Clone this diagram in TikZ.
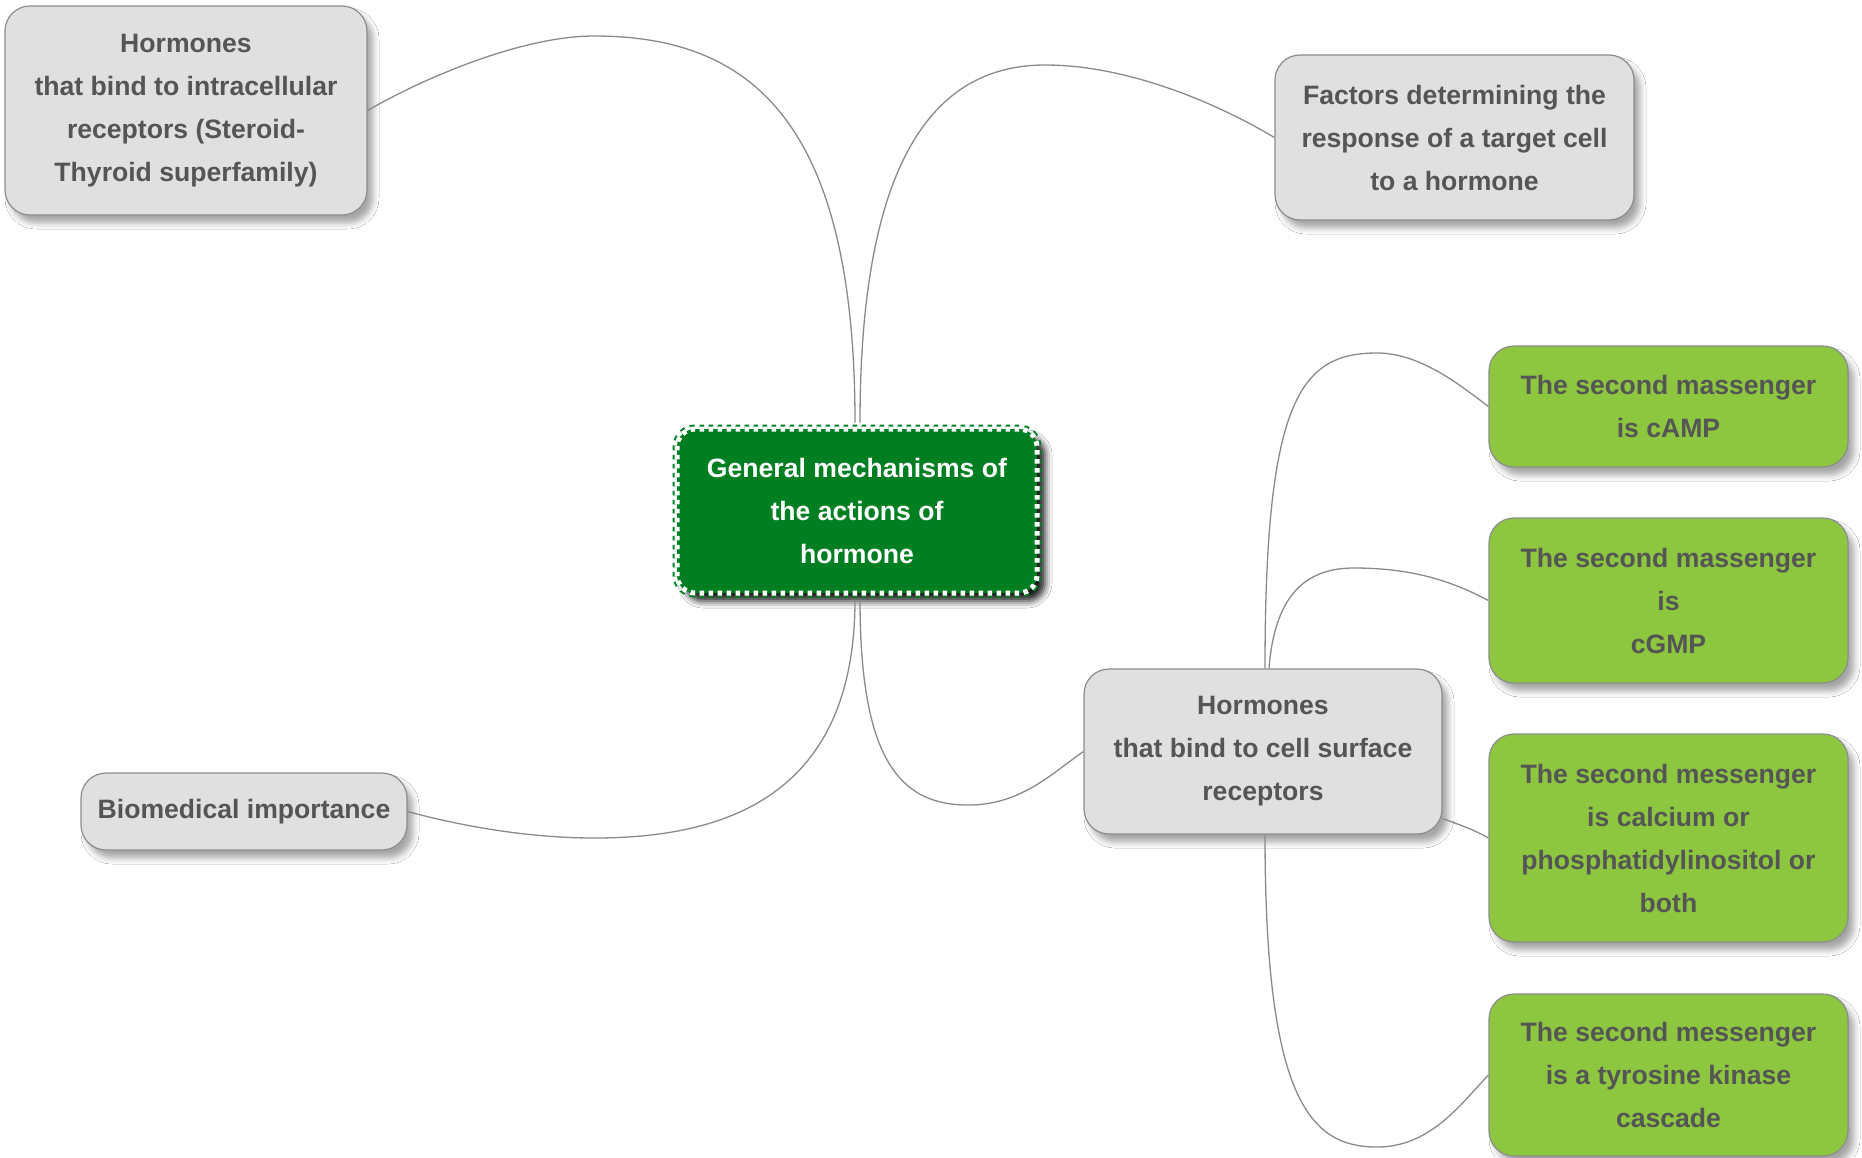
\documentclass[tikz,border=0pt]{standalone}
\usepackage{fontspec}
\setmainfont{Liberation Sans}
\usetikzlibrary{shadows.blur}
\definecolor{txtgray}{HTML}{555555}
\definecolor{grayfill}{HTML}{E0E0E0}
\definecolor{boxborder}{HTML}{8C8C8C}
\definecolor{greenfill}{HTML}{8DC63F}
\definecolor{darkgreen}{HTML}{007F22}
\definecolor{linegray}{HTML}{8A8A8A}
\tikzset{
  basebox/.style={rounded corners=25pt, line width=1.2pt, align=center, inner sep=0pt,
    font=\fontsize{26.6}{43}\selectfont\bfseries,
    blur shadow={shadow xshift=6pt, shadow yshift=-8pt, shadow opacity=35, shadow blur radius=6pt}},
  graybox/.style={basebox, draw=boxborder, fill=grayfill, text=txtgray},
  greenbox/.style={basebox, draw=boxborder, fill=greenfill, text=txtgray},
  centerbox/.style={rounded corners=18pt, align=center, inner sep=0pt,
    font=\fontsize{26.6}{43}\selectfont\bfseries, text=white, fill=darkgreen,
    blur shadow={shadow xshift=8pt, shadow yshift=-8pt, shadow opacity=90, shadow blur radius=7pt},
    preaction={draw=darkgreen, line width=9pt},
    draw=white, line width=5pt, dash pattern=on 4.5pt off 4.5pt},
  conn/.style={draw=linegray, line width=1.3pt}
}
\begin{document}
\begin{tikzpicture}[x=1pt,y=-1pt]
\useasboundingbox (0,0) rectangle (1862,1157);
\fill[white] (0,0) rectangle (1862,1157);

\node[centerbox, minimum width=360pt, minimum height=164pt] (c) at (857,511)
  {General mechanisms of\\the actions of\\hormone};
\node[graybox, minimum width=362pt, minimum height=209pt] (tl) at (186,110.5)
  {Hormones\\that bind to intracellular\\receptors (Steroid-\\Thyroid superfamily)};
\node[graybox, minimum width=359pt, minimum height=165pt] (tr) at (1454.5,137.5)
  {Factors determining the\\response of a target cell\\to a hormone};
\node[graybox, minimum width=326pt, minimum height=77pt] (bio) at (244,811.5)
  {Biomedical importance};
\node[graybox, minimum width=358pt, minimum height=165pt] (cell) at (1263,751.5)
  {Hormones\\that bind to cell surface\\receptors};
\node[greenbox, minimum width=359pt, minimum height=121pt] (g1) at (1668.5,406.5)
  {The second massenger\\is cAMP};
\node[greenbox, minimum width=359pt, minimum height=165pt] (g2) at (1668.5,600.5)
  {The second massenger\\is\\cGMP};
\node[greenbox, minimum width=359pt, minimum height=208pt] (g3) at (1668.5,838)
  {The second messenger\\is calcium or\\phosphatidylinositol or\\both};
\node[greenbox, minimum width=359pt, minimum height=162pt] (g4) at (1668.5,1075)
  {The second messenger\\is a tyrosine kinase\\cascade};

\draw[conn] ([xshift=-2pt,yshift=4pt]c.north) .. controls (855,120) and (750,36) .. (594,36)
  .. controls (520,36) and (420,80) .. (tl.east);
\draw[conn] ([xshift=3pt,yshift=4pt]c.north) .. controls (860,150) and (940,65) .. (1045,65)
  .. controls (1130,65) and (1220,105) .. (tr.west);
\draw[conn] ([xshift=-2pt,yshift=-4pt]c.south) .. controls (855,800) and (720,838) .. (594,838)
  .. controls (520,838) and (450,823) .. (bio.east);
\draw[conn] ([xshift=3pt,yshift=-4pt]c.south) .. controls (860,760) and (900,805) .. (968,805)
  .. controls (1020,805) and (1050,775) .. (cell.west);
\draw[conn] ([xshift=2pt]cell.north) .. controls (1265,400) and (1300,353) .. (1377,353)
  .. controls (1420,353) and (1460,385) .. (g1.west);
\draw[conn] ([xshift=6pt]cell.north) .. controls (1275,590) and (1310,568) .. (1354,568)
  .. controls (1410,568) and (1450,580) .. (g2.west);
\draw[conn] ([yshift=-67pt]cell.east) .. controls (1460,825) and (1475,830) .. (g3.west);
\draw[conn] ([xshift=2pt]cell.south) .. controls (1265,1100) and (1310,1147) .. (1377,1147)
  .. controls (1430,1147) and (1460,1105) .. (g4.west);
\end{tikzpicture}
\end{document}
